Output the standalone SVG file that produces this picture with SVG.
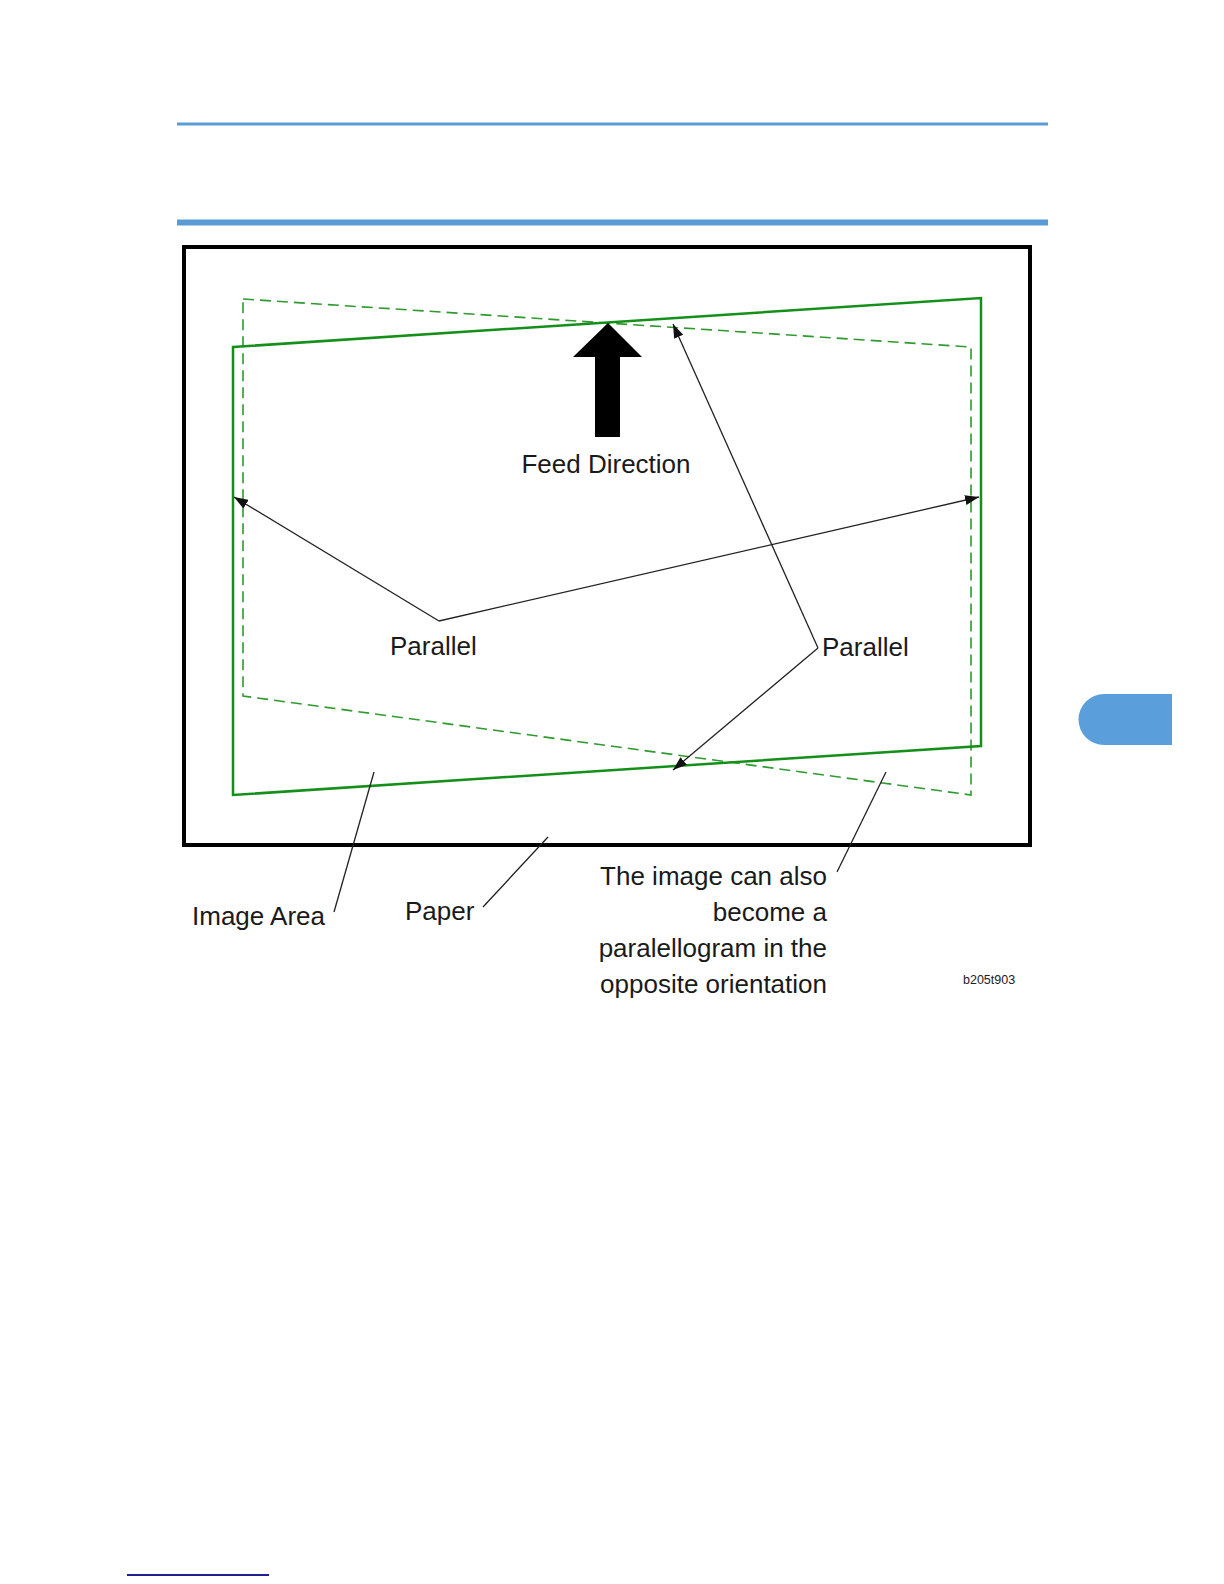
<svg xmlns="http://www.w3.org/2000/svg" width="1224" height="1584" viewBox="0 0 1224 1584">
<style>
.t{font-family:"Liberation Sans",Arial,sans-serif;font-size:26px;fill:#1a1a1a}
.lead{stroke:#222;stroke-width:1.3;fill:none}
.solid{stroke:#14901a;stroke-width:2.5;fill:none;stroke-linejoin:miter}
.dash{stroke:#2f9a2f;stroke-width:1.6;fill:none;stroke-dasharray:11 6}
</style>
<defs>
<marker id="ah" viewBox="0 0 14 10" refX="14" refY="5" markerWidth="14" markerHeight="10" markerUnits="userSpaceOnUse" orient="auto">
<path d="M0,0 L14,5 L0,10 Z" fill="#111"/>
</marker>
</defs>
<rect width="1224" height="1584" fill="#fff"/>
<g id="header">
<line x1="177" y1="124" x2="1048" y2="124" stroke="#5b9bd5" stroke-width="3"/>
<line x1="177" y1="222.5" x2="1048" y2="222.5" stroke="#5b9bd5" stroke-width="6"/>
</g>
<g id="tab"><path d="M1172,694 L1104,694 A25.5,25.5 0 0 0 1104,745 L1172,745 Z" fill="#5a9fdb"/></g>
<g id="paper"><rect x="184" y="247" width="846" height="598" fill="none" stroke="#000" stroke-width="4"/></g>
<g id="image-dashed"><polygon class="dash" points="243,299 971,347 971,795 243,696"/></g>
<g id="image-solid"><polygon class="solid" points="233,347 981,298 981,746 233,795"/></g>
<g id="feed-arrow"><polygon points="608,323 642,357 620,357 620,437 595,437 595,357 573,357" fill="#000"/></g>
<g id="connectors">
<line class="lead" x1="439" y1="621" x2="234" y2="497" marker-end="url(#ah)"/>
<line class="lead" x1="439" y1="621" x2="979" y2="497" marker-end="url(#ah)"/>
<line class="lead" x1="818" y1="648" x2="673" y2="324" marker-end="url(#ah)"/>
<line class="lead" x1="818" y1="648" x2="673" y2="770" marker-end="url(#ah)"/>
<line class="lead" x1="374" y1="772" x2="334" y2="912"/>
<line class="lead" x1="548" y1="837" x2="483" y2="907"/>
<line class="lead" x1="886" y1="772" x2="837" y2="872"/>
</g>
<g id="labels">
<text class="t" x="606" y="473" text-anchor="middle">Feed Direction</text>
<text class="t" x="390" y="655">Parallel</text>
<text class="t" x="822" y="656">Parallel</text>
<text class="t" x="192" y="925">Image Area</text>
<text class="t" x="405" y="920">Paper</text>
<text class="t" x="827" y="885" text-anchor="end">The image can also</text>
<text class="t" x="827" y="921" text-anchor="end">become a</text>
<text class="t" x="827" y="957" text-anchor="end">paralellogram in the</text>
<text class="t" x="827" y="993" text-anchor="end">opposite orientation</text>
<text x="963" y="984" style="font-family:'Liberation Sans',Arial,sans-serif;font-size:12.5px;fill:#222">b205t903</text>
</g>
<g id="footer"><line x1="127" y1="1575" x2="269" y2="1575" stroke="#1f1f8f" stroke-width="2"/></g>
</svg>
